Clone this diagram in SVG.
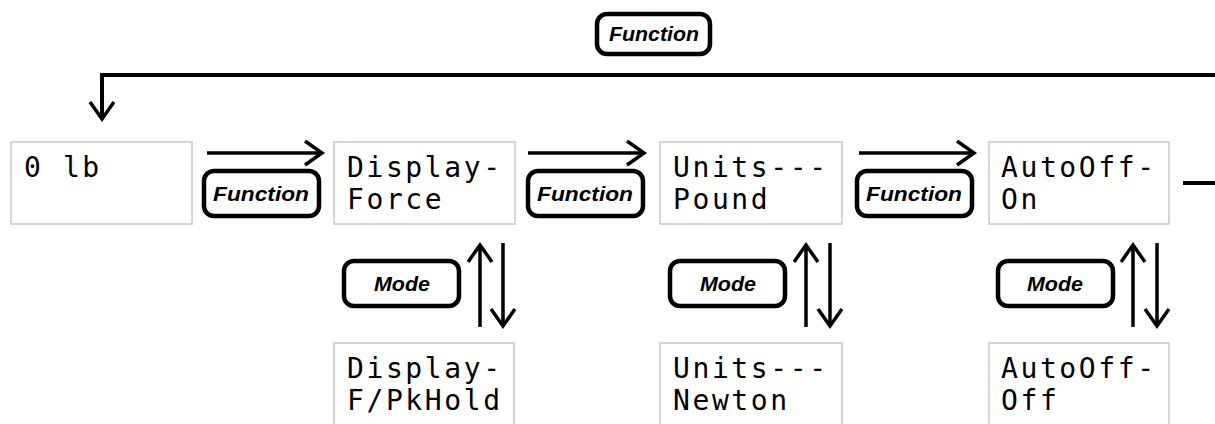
<svg xmlns="http://www.w3.org/2000/svg" width="1215" height="424" viewBox="0 0 1215 424">
<style>
.box{fill:#fff;stroke:#c8c8c8;stroke-width:1.5}
.lcd{font-family:"DejaVu Sans Mono","Liberation Mono",monospace;font-size:28px;letter-spacing:2.6px;fill:#000}
.btn{fill:#fff;stroke:#000;stroke-width:4.5}
.bt{font-family:"Liberation Sans",Arial,sans-serif;font-weight:bold;font-style:italic;font-size:21px;fill:#000;text-anchor:middle}
.ln{fill:none;stroke:#000;stroke-width:4}
.ar{fill:none;stroke:#000;stroke-width:3.5;marker-end:url(#ah)}
</style>
<defs>
<marker id="ah" markerUnits="userSpaceOnUse" markerWidth="26" markerHeight="28" refX="19" refY="13" orient="auto" viewBox="0 0 26 28">
<path d="M2,1 L19,13 L2,25" fill="none" stroke="#000" stroke-width="3.5"/>
</marker>
</defs>
<rect width="1215" height="424" fill="#fff"/>

<g id="connectors">
<path class="ln" d="M1215,75 H102 V119" marker-end="url(#ah)"/>
<line class="ln" x1="1183" y1="183" x2="1215" y2="183"/>
<line class="ar" x1="207" y1="153" x2="322" y2="153"/>
<line class="ar" x1="528" y1="153" x2="644" y2="153"/>
<line class="ar" x1="859" y1="153" x2="974" y2="153"/>
<line class="ar" x1="480" y1="327" x2="480" y2="245"/>
<line class="ar" x1="503" y1="243" x2="503" y2="326"/>
<line class="ar" x1="806" y1="327" x2="806" y2="245"/>
<line class="ar" x1="830" y1="243" x2="830" y2="326"/>
<line class="ar" x1="1133" y1="327" x2="1133" y2="245"/>
<line class="ar" x1="1157" y1="243" x2="1157" y2="326"/>
</g>

<g id="btn-function-top"><rect class="btn" x="597" y="14" width="113" height="40" rx="10"/><text class="bt" x="654" y="41" textLength="90" lengthAdjust="spacingAndGlyphs">Function</text></g>
<g id="btn-function-1"><rect class="btn" x="204" y="171" width="115" height="45" rx="10"/><text class="bt" x="261" y="201" textLength="96" lengthAdjust="spacingAndGlyphs">Function</text></g>
<g id="btn-function-2"><rect class="btn" x="528" y="171" width="115" height="45" rx="10"/><text class="bt" x="585" y="201" textLength="96" lengthAdjust="spacingAndGlyphs">Function</text></g>
<g id="btn-function-3"><rect class="btn" x="857" y="171" width="115" height="45" rx="10"/><text class="bt" x="914" y="201" textLength="96" lengthAdjust="spacingAndGlyphs">Function</text></g>
<g id="btn-mode-1"><rect class="btn" x="344" y="261" width="115" height="45" rx="10"/><text class="bt" x="402" y="291" textLength="56" lengthAdjust="spacingAndGlyphs">Mode</text></g>
<g id="btn-mode-2"><rect class="btn" x="670" y="261" width="115" height="45" rx="10"/><text class="bt" x="728" y="291" textLength="56" lengthAdjust="spacingAndGlyphs">Mode</text></g>
<g id="btn-mode-3"><rect class="btn" x="998" y="261" width="115" height="45" rx="10"/><text class="bt" x="1055" y="291" textLength="56" lengthAdjust="spacingAndGlyphs">Mode</text></g>

<g id="node-0lb"><rect class="box" x="11" y="142" width="181" height="82"/><text class="lcd" x="24" y="177">0 lb</text></g>
<g id="node-display-force"><rect class="box" x="334" y="142" width="181" height="82"/><text class="lcd" x="347" y="177">Display-</text><text class="lcd" x="347" y="209">Force</text></g>
<g id="node-units-pound"><rect class="box" x="660" y="142" width="182" height="82"/><text class="lcd" x="673" y="177">Units---</text><text class="lcd" x="673" y="209">Pound</text></g>
<g id="node-autooff-on"><rect class="box" x="989" y="142" width="180" height="82"/><text class="lcd" x="1001" y="177">AutoOff-</text><text class="lcd" x="1001" y="209">On</text></g>
<g id="node-display-pkhold"><rect class="box" x="334" y="343" width="180" height="90"/><text class="lcd" x="347" y="378">Display-</text><text class="lcd" x="347" y="410">F/PkHold</text></g>
<g id="node-units-newton"><rect class="box" x="660" y="343" width="182" height="90"/><text class="lcd" x="673" y="378">Units---</text><text class="lcd" x="673" y="410">Newton</text></g>
<g id="node-autooff-off"><rect class="box" x="989" y="343" width="180" height="90"/><text class="lcd" x="1001" y="378">AutoOff-</text><text class="lcd" x="1001" y="410">Off</text></g>
</svg>
